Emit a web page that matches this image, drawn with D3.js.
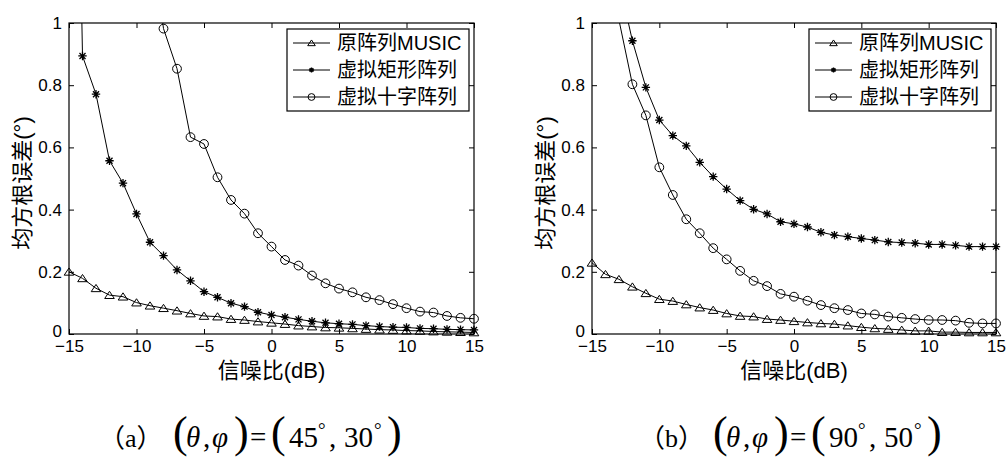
<!DOCTYPE html>
<html>
<head>
<meta charset="utf-8">
<script src="https://cdn.jsdelivr.net/npm/d3@7"></script>
<style>
  body { margin: 0; background: #fff; }
  svg { display: block; }
  .sans { font-family: Arial, "Liberation Sans", "Noto Sans CJK SC", sans-serif; }
  .serif { font-family: "Times New Roman", "Liberation Serif", serif; }
  .cjkserif { font-family: "Times New Roman", "Liberation Serif", "Noto Sans CJK SC", serif; }
</style>
</head>
<body>
<svg id="chart" width="1008" height="457"></svg>
<script>
const snr = [-15, -14, -13, -12, -11, -10, -9, -8, -7, -6, -5, -4, -3, -2, -1, 0,
  1, 2, 3, 4, 5, 6, 7, 8, 9, 10, 11, 12, 13, 14, 15];

// (a) theta=45, phi=30
const aMusic = [0.200, 0.179, 0.147, 0.125, 0.120, 0.101, 0.091, 0.083, 0.075, 0.066, 0.058,
  0.056, 0.048, 0.045, 0.040, 0.036, 0.032, 0.027, 0.024, 0.021, 0.020,
  0.018, 0.016, 0.014, 0.013, 0.011, 0.010, 0.008, 0.007, 0.006, 0.005];
const aRect = [3.2, 0.894, 0.771, 0.557, 0.485, 0.386, 0.295, 0.252, 0.206, 0.171, 0.136,
  0.118, 0.099, 0.088, 0.070, 0.061, 0.054, 0.047, 0.041, 0.036, 0.033,
  0.031, 0.027, 0.024, 0.022, 0.021, 0.018, 0.017, 0.015, 0.014, 0.013];
const aCross = [null, null, null, null, null, null, 1.3, 0.982, 0.853, 0.633, 0.611,
  0.504, 0.431, 0.387, 0.324, 0.281, 0.238, 0.220, 0.188, 0.163, 0.146,
  0.134, 0.118, 0.109, 0.096, 0.083, 0.072, 0.069, 0.058, 0.052, 0.049];

// (b) theta=90, phi=50
const bMusic = [0.229, 0.192, 0.176, 0.152, 0.131, 0.112, 0.106, 0.095, 0.085, 0.077, 0.066,
  0.058, 0.056, 0.048, 0.045, 0.041, 0.037, 0.034, 0.032, 0.027, 0.022,
  0.018, 0.016, 0.013, 0.010, 0.010, 0.006, 0.006, 0.005, 0.005, 0.005];
const bRect = [null, null, 1.135, 0.943, 0.793, 0.688, 0.638, 0.605, 0.552, 0.506, 0.466,
  0.429, 0.401, 0.386, 0.361, 0.354, 0.344, 0.327, 0.318, 0.313, 0.307,
  0.302, 0.296, 0.294, 0.292, 0.288, 0.288, 0.285, 0.281, 0.281, 0.281];
const bCross = [null, null, 1.01, 0.803, 0.703, 0.536, 0.447, 0.369, 0.324, 0.276, 0.240,
  0.203, 0.171, 0.154, 0.129, 0.120, 0.107, 0.093, 0.083, 0.077, 0.066,
  0.063, 0.056, 0.052, 0.048, 0.045, 0.045, 0.043, 0.036, 0.034, 0.034];

const seriesNames = ['原阵列MUSIC', '虚拟矩形阵列', '虚拟十字阵列'];
const markerTypes = ['triangle', 'star', 'circle'];
const xTicks = [-15, -10, -5, 0, 5, 10, 15];
const yTicks = [0, 0.2, 0.4, 0.6, 0.8, 1];
const yTickLabels = ['0', '0.2', '0.4', '0.6', '0.8', '1'];
const xLabel = '信噪比(dB)';
const yLabel = '均方根误差(°)';

const panels = [
  { id: 'a', left: 69, right: 474, series: [aMusic, aRect, aCross], angles: ['45', '30'], capX: 113 },
  { id: 'b', left: 592, right: 996, series: [bMusic, bRect, bCross], angles: ['90', '50'], capX: 653 }
];

const svg = d3.select('#chart');
const plotTop = 23, plotBottom = 334;

function markerPath(type, s) {
  if (type === 'triangle') return `M0,${-s * 0.8}L${s},${s * 0.7}L${-s},${s * 0.7}Z`;
  if (type === 'star') {
    const d = s * 0.72;
    return `M${-s},0H${s}M0,${-s}V${s}M${-d},${-d}L${d},${d}M${-d},${d}L${d},${-d}`;
  }
  return null;
}

function drawMarker(g, type, x, y, s) {
  if (type === 'circle') {
    g.append('circle').attr('cx', x).attr('cy', y).attr('r', s)
      .attr('fill', 'none').attr('stroke', '#000').attr('stroke-width', 1);
  } else {
    g.append('path').attr('d', markerPath(type, s))
      .attr('transform', `translate(${x},${y})`)
      .attr('fill', 'none').attr('stroke', '#000')
      .attr('stroke-width', type === 'star' ? 1.3 : 1);
  }
}

panels.forEach(p => {
  const x = d3.scaleLinear().domain([-15, 15]).range([p.left, p.right]);
  const y = d3.scaleLinear().domain([0, 1]).range([plotBottom, plotTop]);
  const g = svg.append('g');

  svg.append('clipPath').attr('id', 'clip-' + p.id)
    .append('rect').attr('x', p.left).attr('y', plotTop)
    .attr('width', p.right - p.left).attr('height', plotBottom - plotTop);

  // axes box with inward ticks on all sides
  const axisX = d3.axisBottom(x).tickValues(xTicks).tickSizeInner(-5).tickSizeOuter(0).tickPadding(6);
  const axisY = d3.axisLeft(y).tickValues(yTicks).tickSizeInner(-5).tickSizeOuter(0).tickPadding(7)
    .tickFormat((d, i) => yTickLabels[i]);
  const gx = g.append('g').attr('transform', `translate(0,${plotBottom})`).call(axisX);
  const gy = g.append('g').attr('transform', `translate(${p.left},0)`).call(axisY);
  g.append('g').attr('transform', `translate(0,${plotTop})`)
    .call(d3.axisTop(x).tickValues(xTicks).tickSizeInner(-5).tickSizeOuter(0).tickFormat(''));
  g.append('g').attr('transform', `translate(${p.right},0)`)
    .call(d3.axisRight(y).tickValues(yTicks).tickSizeInner(-5).tickSizeOuter(0).tickFormat(''));
  g.selectAll('.domain').remove();
  g.selectAll('.tick line').attr('stroke', '#000');
  [gx, gy].forEach(a => a.attr('font-family', null).attr('font-size', null).selectAll('text')
    .attr('fill', '#000').attr('class', 'sans').style('font-size', '17px'));
  gy.select('.tick text').attr('dy', '0.12em');

  const lines = svg.append('g').attr('clip-path', `url(#clip-${p.id})`);
  const line = d3.line()
    .defined(d => d.v !== null)
    .x(d => x(d.s)).y(d => y(d.v));
  const marks = svg.append('g');

  p.series.forEach((vals, k) => {
    const pts = snr.map((s, i) => ({ s, v: vals[i] }));
    lines.append('path').datum(pts).attr('d', line)
      .attr('fill', 'none').attr('stroke', '#000').attr('stroke-width', 1);
    pts.filter(d => d.v !== null && d.v <= 1).forEach(d => {
      const size = markerTypes[k] === 'circle' ? 4.4 : (markerTypes[k] === 'star' ? 4.2 : 4.8);
      drawMarker(marks, markerTypes[k], x(d.s), y(d.v), size);
    });
  });

  svg.append('rect').attr('x', p.left).attr('y', plotTop)
    .attr('width', p.right - p.left).attr('height', plotBottom - plotTop)
    .attr('fill', 'none').attr('stroke', '#000').attr('stroke-width', 1.2);

  // legend
  const lx = p.right - 187, ly = 29;
  const lg = svg.append('g');
  lg.append('rect').attr('x', lx).attr('y', ly).attr('width', 182).attr('height', 82)
    .attr('fill', '#fff').attr('stroke', '#000').attr('stroke-width', 1.2);
  seriesNames.forEach((name, k) => {
    const ry = ly + 14 + k * 27;
    lg.append('line').attr('x1', lx + 6).attr('x2', lx + 43).attr('y1', ry).attr('y2', ry)
      .attr('stroke', '#000').attr('stroke-width', 1);
    const size = markerTypes[k] === 'circle' ? 3.4 : (markerTypes[k] === 'star' ? 2.6 : 3.8);
    drawMarker(lg, markerTypes[k], lx + 24.5, ry, size);
    lg.append('text').attr('class', 'sans').attr('x', lx + 50).attr('y', ry).attr('dy', '0.35em')
      .style('font-size', '20px').text(name);
  });

  // axis labels
  svg.append('text').attr('class', 'sans').attr('x', (p.left + p.right) / 2).attr('y', 370).attr('dy', '0.35em')
    .attr('text-anchor', 'middle').style('font-size', '22px').text(xLabel);
  svg.append('text').attr('class', 'sans').attr('transform', `translate(${p.left - 47},183) rotate(-90)`)
    .attr('dy', '0.35em').attr('text-anchor', 'middle').style('font-size', '22px').text(yLabel);

  // caption: (θ,φ) = (a°, b°)
  const base = 447;
  const cap = svg.append('text').attr('class', 'serif').attr('y', base).style('font-size', '29px');
  const pieces = [
    { t: `（${p.id}）`, dx: -14, size: 26, cls: 'cjkserif' },
    { t: '(', dx: 60, size: 44 },
    { t: 'θ', dx: 73, italic: true },
    { t: ',', dx: 90 },
    { t: 'φ', dx: 99, italic: true },
    { t: ')', dx: 121, size: 44 },
    { t: '=', dx: 137 },
    { t: '(', dx: 158, size: 44 },
    { t: p.angles[0], dx: 176 },
    { t: '°', dx: 205, size: 19, rise: 11 },
    { t: ',', dx: 216 },
    { t: p.angles[1], dx: 231 },
    { t: '°', dx: 261, size: 19, rise: 11 },
    { t: ')', dx: 274, size: 44 }
  ];
  pieces.forEach(pc => {
    const ts = cap.append('tspan').attr('x', p.capX + pc.dx).attr('y', base - (pc.rise || 0)).text(pc.t);
    if (pc.size) ts.style('font-size', pc.size + 'px');
    if (pc.italic) ts.style('font-style', 'italic');
    if (pc.cls) ts.attr('class', pc.cls);
  });
});
</script>
</body>
</html>
